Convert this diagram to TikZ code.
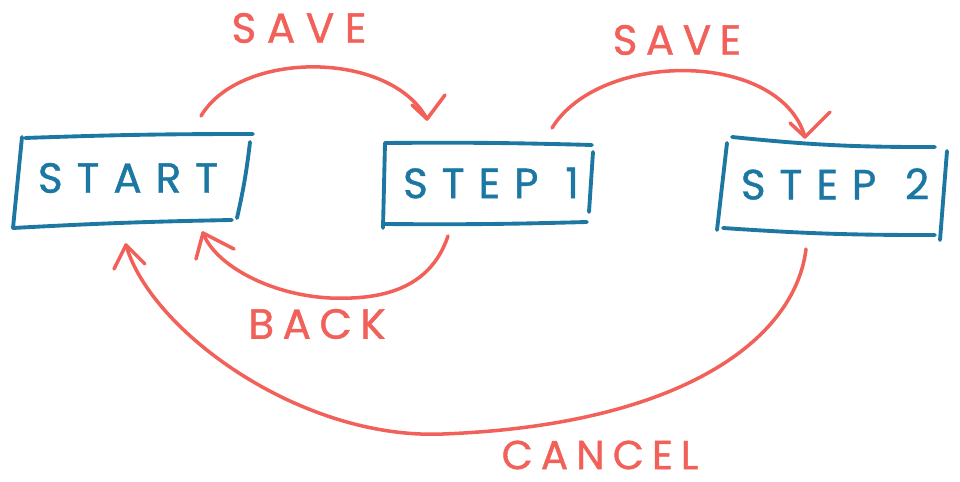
\documentclass[tikz,border=0pt]{standalone}
\usepackage{fontspec}
\newfontfamily\hand[LetterSpace=25,FakeBold=1]{Poppins}
\newfontfamily\handwide[LetterSpace=33,FakeBold=1]{Poppins}
\newfontfamily\handnarrow[LetterSpace=20,FakeBold=1]{Poppins}
\definecolor{boxblue}{HTML}{1C78A3}
\definecolor{arrred}{HTML}{F2605A}
\tikzset{
  sketchbox/.style={draw=boxblue,line width=2.2pt,line cap=round,line join=round},
  sketcharrow/.style={draw=arrred,line width=2pt,line cap=round,line join=round},
  boxtext/.style={text=boxblue,font=\hand\fontsize{24}{24}\selectfont,inner sep=0pt,anchor=center},
  arrtext/.style={text=arrred,font=\hand\fontsize{24}{24}\selectfont,inner sep=0pt,anchor=center}
}
\begin{document}
\begin{tikzpicture}[x=0.02cm,y=-0.02cm]
\useasboundingbox (0,0) rectangle (960,482);

% --- boxes (hand-drawn edges) ---
\draw[sketchbox] (25,138) to[bend left=1] (253,134);
\draw[sketchbox] (250,142) to[bend left=3] (237,218);
\draw[sketchbox] (13,228) to[bend left=1] (232,220);
\draw[sketchbox] (22,137) -- (13,228);
\node[boxtext,font=\handwide\fontsize{24}{24}\selectfont] (start) at (128,178) {START};

\draw[sketchbox] (385,143) to[bend left=1] (592,145);
\draw[sketchbox] (593,152) -- (589,212);
\draw[sketchbox] (383,224) to[bend right=1] (587,222);
\draw[sketchbox] (385,143) -- (383,228);
\node[boxtext,font=\handwide\fontsize{24}{24}\selectfont] (step1) at (491,183) {STEP\hspace{1pt} 1};

\draw[sketchbox] (732,137) to[bend right=3] (935,147);
\draw[sketchbox] (947,151) -- (940,240);
\draw[sketchbox] (723,228) to[bend right=2] (935,235);
\draw[sketchbox] (727,143) -- (717,230);
\node[boxtext,font=\handwide\fontsize{24}{24}\selectfont] (step2) at (835,184) {STEP\hspace{2pt} 2};

% --- connector end points ---
\coordinate (s1a) at (201,116);
\coordinate (s1b) at (427,119);
\coordinate (s2a) at (552,128);
\coordinate (s2b) at (805,137);
\coordinate (bka) at (448,236);
\coordinate (bkb) at (203,233);
\coordinate (cna) at (806,249);
\coordinate (cnb) at (126,245);

% SAVE 1
\draw[sketcharrow] (s1a) .. controls (240,50) and (390,50) .. (s1b);
\draw[sketcharrow] (412,105) -- (s1b) -- (445,95);
\node[arrtext] (save1) at (299,28) {SAVE};

% SAVE 2
\draw[sketcharrow] (s2a) .. controls (600,50) and (780,50) .. (s2b);
\draw[sketcharrow] (790,123) -- (s2b) -- (830,112);
\node[arrtext,font=\handnarrow\fontsize{24}{24}\selectfont] (save2) at (677,40) {SAVE};

% BACK
\draw[sketcharrow] (bka) .. controls (430,290) and (380,300) .. (330,298)
                          .. controls (270,295) and (215,265) .. (bkb);
\draw[sketcharrow] (234,249) -- (bkb) -- (196,259);
\node[arrtext,font=\handnarrow\fontsize{24}{24}\selectfont] (back) at (317,324) {BACK};

% CANCEL
\draw[sketcharrow] (cna) .. controls (795,340) and (680,425) .. (443,434)
                          .. controls (300,440) and (150,330) .. (cnb);
\draw[sketcharrow] (114,269) -- (cnb) -- (145,264);
\node[arrtext,font=\handnarrow\fontsize{23}{23}\selectfont] (cancel) at (600,455) {CANCEL};
\end{tikzpicture}
\end{document}
